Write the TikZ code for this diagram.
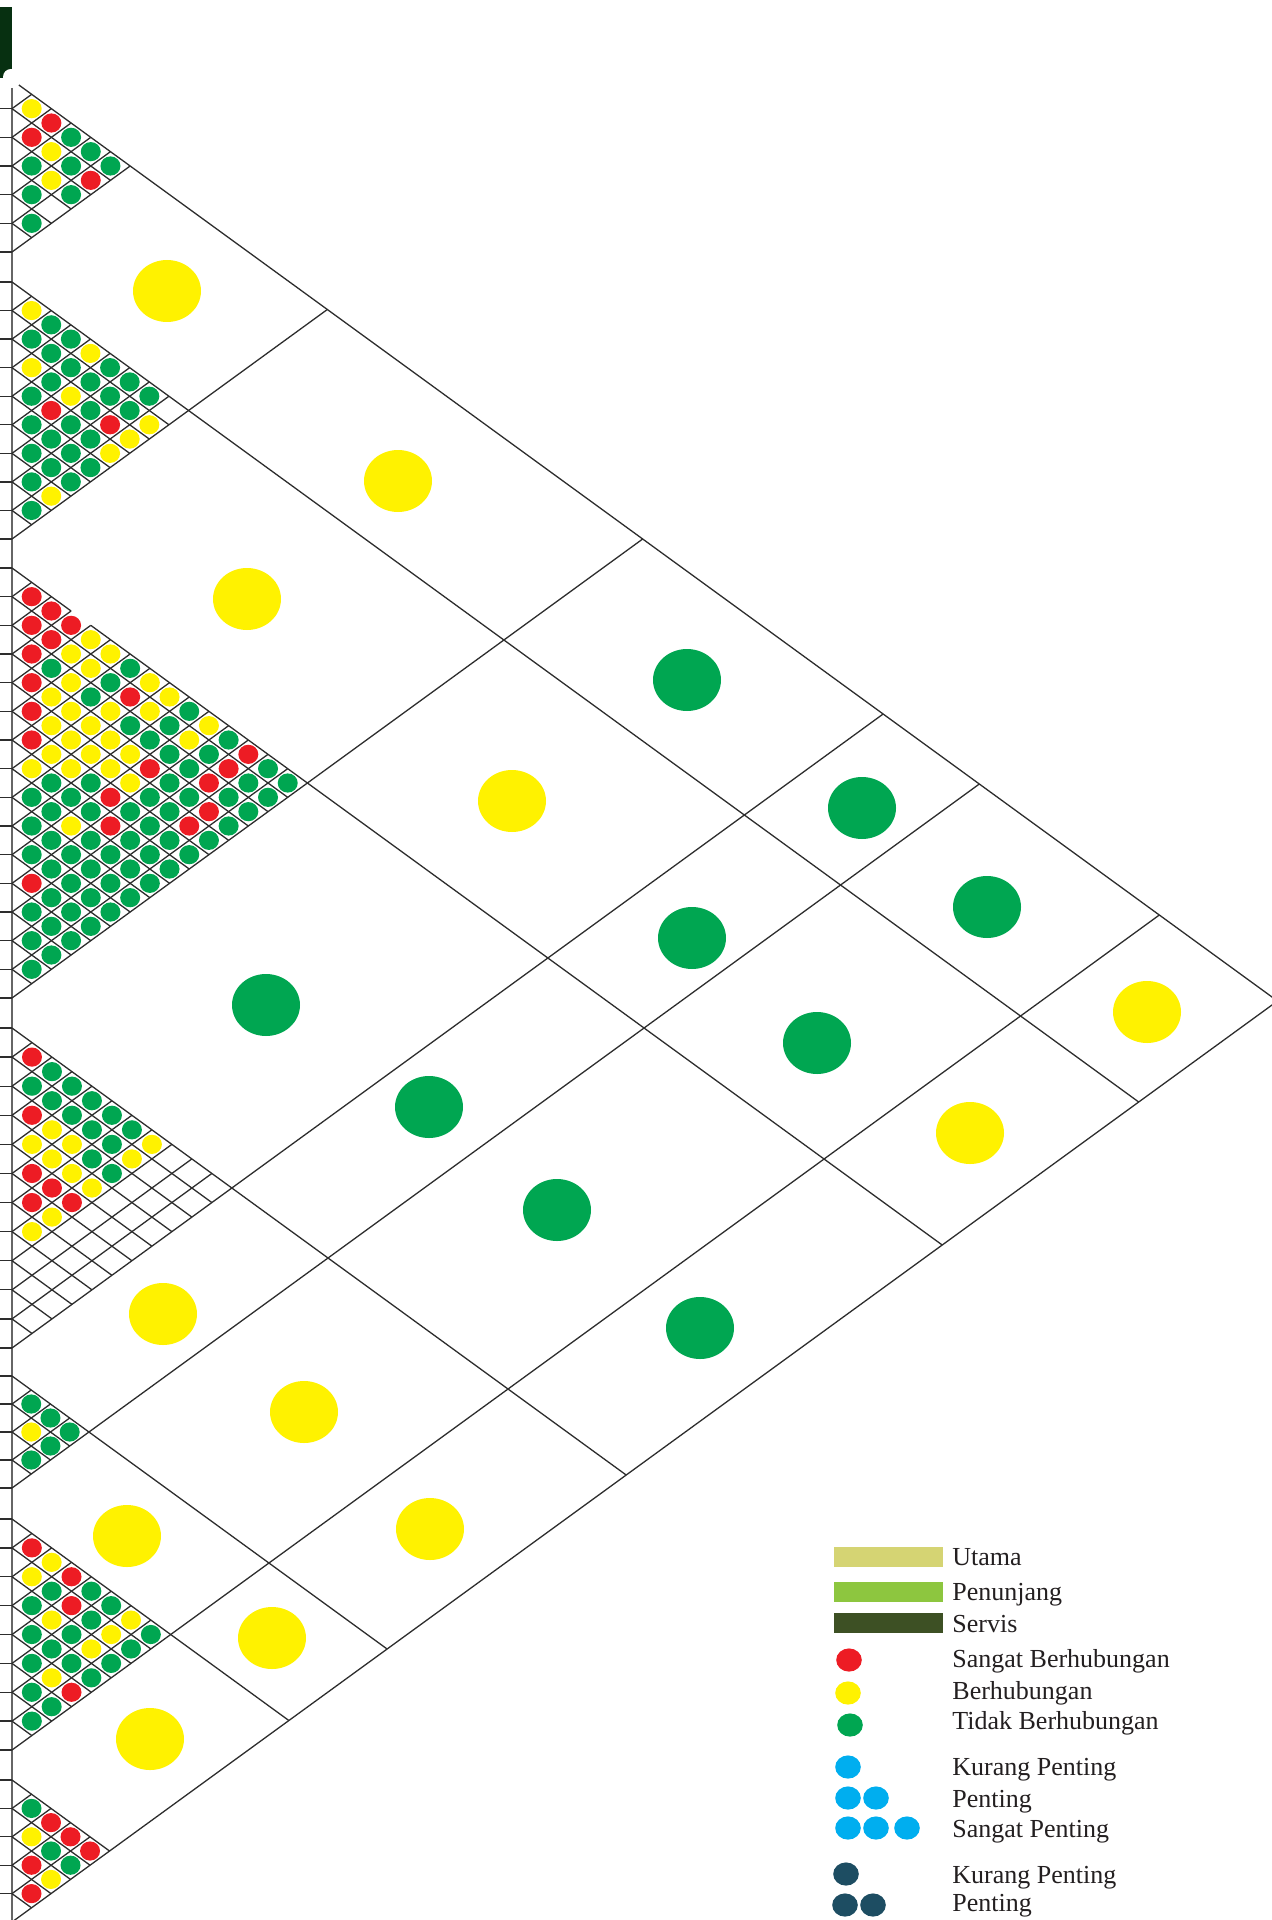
\documentclass[tikz,border=0pt]{standalone}
\usepackage{fontspec}
\setmainfont{Liberation Serif}
\usepackage{xcolor}
\usepackage{tikz}

\definecolor{R}{RGB}{237,28,36}
\definecolor{Y}{RGB}{255,242,0}
\definecolor{G}{RGB}{0,166,81}
\definecolor{biru}{RGB}{0,174,239}
\definecolor{birutua}{RGB}{29,77,98}
\definecolor{utama}{RGB}{213,212,115}
\definecolor{penunjang}{RGB}{141,198,63}
\definecolor{servis}{RGB}{61,80,36}
\definecolor{judul}{RGB}{7,48,17}
\definecolor{garis}{RGB}{45,45,45}
\definecolor{teks}{RGB}{35,31,32}

\tikzset{
  garis/.style={draw=garis, line width=0.65pt},
  sumbu/.style={draw=gray!80!black, line width=1.2pt},
  bulat/.style={x radius=5pt, y radius=4.8pt},
  bulatbesar/.style={x radius=17pt, y radius=15.5pt},
  titik/.style={x radius=6.4pt, y radius=5.8pt},
  ket/.style={anchor=base west, inner sep=0pt, text=teks, font=\fontsize{13}{15}\selectfont},
}

% one group: top, bottom, items, colours row by row
\newcommand\matriks[4]{%
  \pgfmathsetmacro\hh{(#2-#1)/#3}%
  \pgfmathtruncatemacro\mm{#3-1}%
  \foreach \kk in {1,...,\mm} {
    \pgfmathsetmacro\bt{#1+\kk*\hh}
    \draw[garis] (\bt,\bt) -- (\bt,#2);
    \draw[garis] (\bt,\bt) -- (#1,\bt);
    \draw[garis] (\bt,\bt) -- ++(-6pt,0pt);
  }
  \foreach \brs [count=\ii from 0] in {#4} {
    \foreach \wrn [count=\jj] in \brs {
      \pgfmathsetmacro\pp{#1+(\ii+0.5)*\hh}
      \pgfmathsetmacro\qq{#1+(\ii+\jj+0.5)*\hh}
      \fill[fill=\wrn, bulat] (\pp,\qq) circle;
    }
  }
}

\begin{document}
\begin{tikzpicture}[x=0.5pt, y=-0.5pt]
\useasboundingbox (0,0) rectangle (1272,1920);

\fill[judul] (0,7) rectangle (12,78);
\fill[white] (11,77) circle (8);

\draw[sumbu] (12,88) -- (12,1920);
\foreach \y in {252,282,539,568,998,1028,1348,1376,1488,1519,1750,1780}
  \draw[garis] (0,\y) -- (12,\y);

\begin{scope}[shift={(6pt,0pt)}, x={(-0.3435pt,-0.25pt)}, y={(0.3435pt,-0.25pt)}]
\draw[garis] (80,90) -- (80,1922);
\draw[garis] (568,568) -- (568,654) (568,683) -- (568,1922);
\foreach \t in {282,1028,1376,1519,1780}
  \draw[garis] (\t,\t) -- (\t,1922);
\foreach \b in {252,539,998,1348,1488,1750,1922}
  \draw[garis] (\b,\b) -- (80,\b);

\matriks{80}{252}{6}{{Y,R,G,G,G},{R,Y,G,R},{G,Y,G},{G},{G}}
\matriks{282}{539}{9}{{Y,G,G,Y,G,G,G},{G,G,G,G,G,G,Y},{Y,G,Y,G,R,Y},{G,R,G,G,Y},{G,G,G,G},{G,G,G},{G,Y},{G}}
\matriks{568}{998}{15}{%
  {R,R,R,Y,Y,G,Y,Y,G,Y,G,R,G,G},%
  {R,R,Y,Y,G,R,Y,G,Y,G,R,G,G},%
  {R,G,Y,G,Y,G,G,G,G,R,G,G},%
  {R,Y,Y,Y,Y,Y,R,G,G,R,G},%
  {R,Y,Y,Y,Y,Y,G,G,R,G},%
  {R,Y,Y,G,R,G,G,G,G},%
  {Y,G,G,G,R,G,G,G},%
  {G,G,Y,G,G,G,G},%
  {G,G,G,G,G,G},%
  {G,G,G,G,G},%
  {R,G,G,G},%
  {G,G,G},%
  {G,G},%
  {G}}
\matriks{1028}{1348}{11}{{R,G,G,G,G,G,Y},{G,G,G,G,G,Y},{R,Y,Y,G,G},{Y,Y,Y,Y},{R,R,R},{R,Y},{Y}}
\matriks{1376}{1488}{4}{{G,G,G},{Y,G},{G}}
\matriks{1519}{1750}{8}{{R,Y,R,G,G,Y,G},{Y,G,R,G,Y,G},{G,Y,G,Y,G},{G,G,G,G},{G,Y,R},{G,G},{G}}
\matriks{1780}{1922}{5}{{G,R,R,R},{Y,G,G},{R,Y},{R}}
\end{scope}

\foreach \x/\y/\w in {167/291/Y, 398/481/Y, 687/680/G, 862/808/G, 987/907/G, 1147/1012/Y,
  247/599/Y, 512/801/Y, 692/938/G, 817/1043/G, 970/1133/Y,
  266/1005/G, 429/1107/G, 557/1210/G, 700/1328/G,
  163/1314/Y, 304/1412/Y, 430/1529/Y,
  127/1536/Y, 272/1638/Y, 150/1739/Y}
  \fill[fill=\w, bulatbesar] (\x,\y) circle;

% legend
\foreach \y/\w in {1557/utama, 1592/penunjang, 1623/servis}
  \fill[fill=\w] (834,\y-9.7) rectangle (943,\y+9.7);
\foreach \x/\y/\w in {849/1660/R, 848/1693/Y, 850/1725/G,
  848/1767/biru, 848/1798/biru, 876/1798/biru, 848/1828/biru, 876/1828/biru, 907/1828/biru,
  846/1874/birutua, 845/1905/birutua, 873/1905/birutua}
  \fill[fill=\w, titik] (\x,\y) circle;
\foreach \y/\t [count=\n] in {1565/Utama, 1600/Penunjang, 1632/Servis, 1667/Sangat Berhubungan,
  1699/Berhubungan, 1729/Tidak Berhubungan, 1775/Kurang Penting, 1807/Penting,
  1837/Sangat Penting, 1883/Kurang Penting, 1911/Penting}
  \node[ket] (ket\n) at (952,\y) {\t};
\end{tikzpicture}
\end{document}
